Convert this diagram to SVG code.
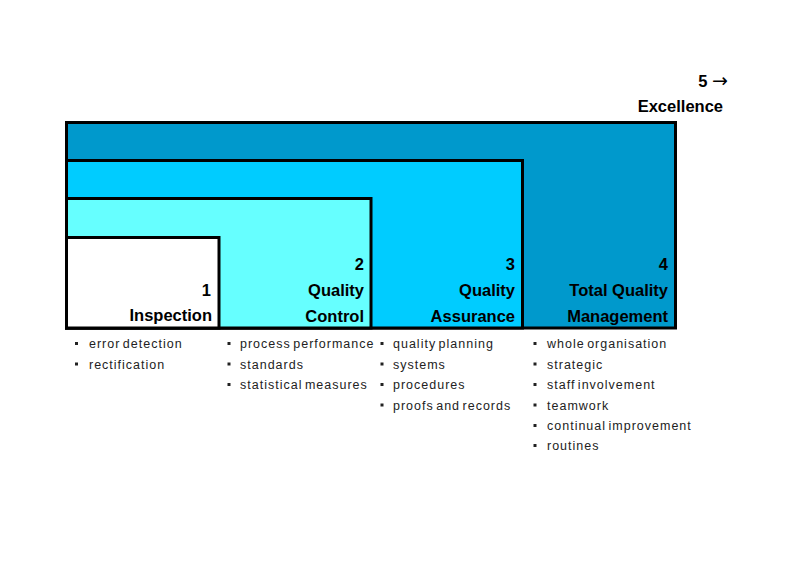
<svg xmlns="http://www.w3.org/2000/svg" width="800" height="566" viewBox="0 0 800 566">
<style>
.box{stroke:#000;stroke-width:3;stroke-linejoin:miter}
.t{font-family:"Liberation Sans",Arial,sans-serif;font-size:16.5px;font-weight:bold;fill:#000;text-anchor:end}
.b text{font-family:"Liberation Sans",Arial,sans-serif;font-size:12.5px;fill:#222;letter-spacing:1px;word-spacing:-2px}
.b rect{fill:#222}
.arr{font-family:"DejaVu Sans",sans-serif;font-weight:normal;font-size:19px}
</style>
<rect width="800" height="566" fill="#fff"/>
<g id="excellence">
<text class="t" x="728" y="87">5 <tspan class="arr">→</tspan></text>
<text class="t" x="723" y="112">Excellence</text>
</g>
<g id="tqm">
<rect class="box" x="66.5" y="122.5" width="609" height="205.5" fill="#0099CC"/>
<text class="t" x="668" y="270">4</text>
<text class="t" x="668" y="296">Total Quality</text>
<text class="t" x="668" y="322">Management</text>
</g>
<g id="qa">
<rect class="box" x="66.5" y="160.5" width="456" height="167.5" fill="#00CCFF"/>
<text class="t" x="515" y="270">3</text>
<text class="t" x="515" y="296">Quality</text>
<text class="t" x="515" y="322">Assurance</text>
</g>
<g id="qc">
<rect class="box" x="66.5" y="198.5" width="304.5" height="129.5" fill="#66FFFF"/>
<text class="t" x="364" y="270">2</text>
<text class="t" x="364" y="296">Quality</text>
<text class="t" x="364" y="322">Control</text>
</g>
<g id="inspection">
<rect class="box" x="66.5" y="237.5" width="152.5" height="90.5" fill="#FFFFFF"/>
<text class="t" x="211" y="296">1</text>
<text class="t" x="212" y="321">Inspection</text>
</g>
<g id="list1" class="b">
<rect x="75" y="342" width="3" height="3"/><text x="89" y="348">error detection</text>
<rect x="75" y="362.5" width="3" height="3"/><text x="89" y="368.5">rectification</text>
</g>
<g id="list2" class="b">
<rect x="227.5" y="342" width="3" height="3"/><text x="240" y="348">process performance</text>
<rect x="227.5" y="362.5" width="3" height="3"/><text x="240" y="368.5">standards</text>
<rect x="227.5" y="383" width="3" height="3"/><text x="240" y="389">statistical measures</text>
</g>
<g id="list3" class="b">
<rect x="380.5" y="342" width="3" height="3"/><text x="393" y="348">quality planning</text>
<rect x="380.5" y="362.5" width="3" height="3"/><text x="393" y="368.5">systems</text>
<rect x="380.5" y="383" width="3" height="3"/><text x="393" y="389">procedures</text>
<rect x="380.5" y="403.5" width="3" height="3"/><text x="393" y="409.5">proofs and records</text>
</g>
<g id="list4" class="b">
<rect x="533.5" y="342" width="3" height="3"/><text x="547" y="348">whole organisation</text>
<rect x="533.5" y="362.5" width="3" height="3"/><text x="547" y="368.5">strategic</text>
<rect x="533.5" y="383" width="3" height="3"/><text x="547" y="389">staff involvement</text>
<rect x="533.5" y="403.5" width="3" height="3"/><text x="547" y="409.5">teamwork</text>
<rect x="533.5" y="424" width="3" height="3"/><text x="547" y="430">continual improvement</text>
<rect x="533.5" y="444" width="3" height="3"/><text x="547" y="450">routines</text>
</g>
<g id="connectors"></g>
</svg>
